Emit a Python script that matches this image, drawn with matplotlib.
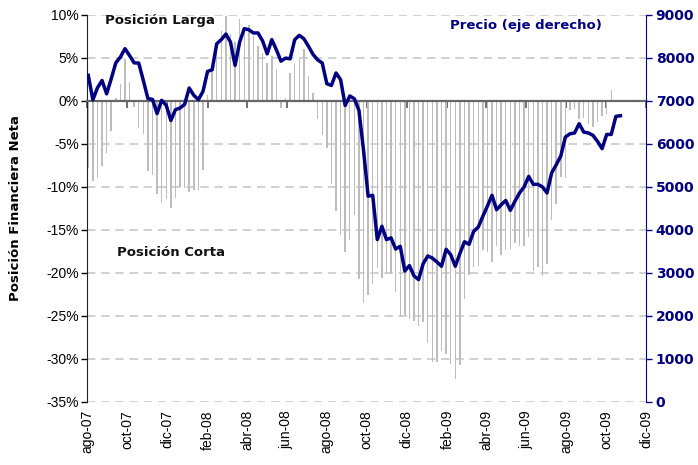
import matplotlib
matplotlib.use('Agg')
import matplotlib.pyplot as plt
import numpy as np
import pandas as pd

# semanas (viernes) desde ago-07
semanas = pd.date_range('2007-08-03', periods=117, freq='7D')

# posicion financiera neta (% del open interest)
posicion = [
    -7.8, -9.3, -9.0, -7.6, -6.1, -3.5, 0.3, 1.9, 4.8, 2.2,
    -0.7, -3.2, -3.9, -8.2, -8.6, -10.9, -11.9, -11.4, -12.5, -11.3,
    -10.0, -10.2, -10.6, -10.4, -10.4, -8.1, 0.7, 3.7, 5.7, 8.1,
    9.9, 7.8, 6.8, 9.5, 8.4, 8.8, 7.5, 6.4, 5.5, 4.4,
    5.2, 3.7, -0.9, 0.3, 3.2, 4.3, 5.0, 6.0, 2.9, 0.9,
    -2.1, -4.0, -5.5, -9.7, -12.8, -15.6, -17.6, -16.2, -13.3, -20.7,
    -23.5, -22.6, -21.3, -19.5, -20.6, -20.2, -20.1, -22.3, -25.2, -24.9,
    -25.4, -25.6, -26.2, -25.7, -28.2, -30.4, -30.4, -29.1, -29.4, -30.6,
    -32.4, -30.7, -23.0, -20.3, -19.3, -19.2, -17.4, -17.6, -18.7, -16.9,
    -17.9, -17.4, -17.2, -16.6, -16.9, -16.9, -15.9, -19.8, -19.3, -20.4,
    -19.0, -13.9, -12.0, -8.9, -9.0, -1.1, -1.0, -2.1, -2.0, -2.7,
    -3.1, -2.5, -1.8, -1.5, 1.3, np.nan, np.nan,
]

# precio (eje derecho)
precio = [
    7589, 7020, 7300, 7470, 7160, 7510, 7880, 8015, 8210, 8050,
    7880, 7875, 7470, 7050, 7030, 6700, 7010, 6890, 6540, 6790,
    6830, 6915, 7295, 7125, 7025, 7215, 7680, 7720, 8325, 8420,
    8550, 8365, 7820, 8365, 8675, 8650, 8575, 8575, 8390, 8090,
    8420, 8185, 7920, 7990, 7975, 8420, 8520, 8440, 8265, 8075,
    7950, 7875, 7395, 7355, 7645, 7490, 6890, 7110, 7045, 6775,
    5845, 4780, 4800, 3770, 4080, 3770, 3810, 3550, 3615, 3040,
    3165, 2925, 2840, 3210, 3390, 3340, 3250, 3150, 3545, 3420,
    3150, 3445, 3720, 3660, 3960, 4060, 4310, 4550, 4800, 4465,
    4580, 4680, 4450, 4660, 4855, 4995, 5240, 5055, 5055, 4995,
    4855, 5320, 5510, 5715, 6155, 6230, 6250, 6465, 6270, 6250,
    6195, 6055, 5885, 6215, 6215, 6635, 6650,
]

meses = pd.date_range('2007-08-01', '2009-12-01', freq='2MS')
etiquetas = ['ago-07', 'oct-07', 'dic-07', 'feb-08', 'abr-08', 'jun-08', 'ago-08',
             'oct-08', 'dic-08', 'feb-09', 'abr-09', 'jun-09', 'ago-09', 'oct-09', 'dic-09']

azul = '#000080'
gris = '#bdbdbd'

fig = plt.figure(figsize=(6.98, 4.65), dpi=100)
ax = fig.add_axes([0.1246, 0.1361, 0.8009, 0.8323])

ax.bar(semanas, posicion, width=2.2, color=gris, zorder=2)

ax.set_ylim(-35, 10)
ax.set_xlim(meses[0], meses[-1])
ax.set_yticks(np.arange(-35, 11, 5))
ax.set_yticklabels([f'{v}%' for v in range(-35, 11, 5)],
                   fontfamily='Liberation Sans', fontsize=10)
ax.yaxis.grid(True, linestyle=(0, (5, 3.5)), color='#c8c8c8', linewidth=1.2, zorder=0)
ax.set_axisbelow(True)
ax.tick_params(axis='y', direction='out', length=4, width=1, pad=2)

# eje de categorias cruzando en 0%, etiquetas abajo
ax.spines['bottom'].set_position(('data', 0))
ax.spines['bottom'].set_color('#666666')
ax.spines['bottom'].set_linewidth(1.6)
ax.spines['bottom'].set_zorder(3)
ax.set_xticks(meses)
ax.tick_params(axis='x', direction='out', length=5, width=1.2, color='#555555',
               labelbottom=False)

abajo = ax.secondary_xaxis('bottom')
abajo.set_xticks(meses)
abajo.set_xticklabels(etiquetas, rotation=90, fontfamily='Liberation Sans', fontsize=10)
abajo.tick_params(length=0, pad=6)
for s in abajo.spines.values():
    s.set_visible(False)

for s in ['top', 'right']:
    ax.spines[s].set_visible(False)
ax.spines['left'].set_color('#222222')

ax.set_ylabel('Posición Financiera Neta', fontfamily='DejaVu Sans', fontweight='bold',
              fontsize=9.5)
ax.yaxis.set_label_coords(-0.117, 0.5)

ax.text(0.032, 0.984, 'Posición Larga', transform=ax.transAxes, va='center', ha='left',
        fontfamily='DejaVu Sans', fontweight='bold', fontsize=9.5, color='#111111')
ax.text(0.054, 0.386, 'Posición Corta', transform=ax.transAxes, va='center', ha='left',
        fontfamily='DejaVu Sans', fontweight='bold', fontsize=9.5, color='#111111')
ax.text(0.649, 0.972, 'Precio (eje derecho)', transform=ax.transAxes, va='center', ha='left',
        fontfamily='DejaVu Sans', fontweight='bold', fontsize=9.5, color=azul)

ax2 = ax.twinx()
ax2.plot(semanas, precio, color=azul, linewidth=2.5, solid_joinstyle='round', zorder=5)
ax2.set_ylim(0, 9000)
ax2.set_yticks(np.arange(0, 9001, 1000))
ax2.set_yticklabels([str(v) for v in range(0, 9001, 1000)],
                    fontfamily='DejaVu Sans', fontweight='bold', fontsize=10, color=azul)
ax2.tick_params(axis='y', direction='out', length=4, width=1, color=azul, pad=3)
for s in ['top', 'left', 'bottom']:
    ax2.spines[s].set_visible(False)
ax2.spines['right'].set_color(azul)
ax2.set_xlim(meses[0], meses[-1])

fig.savefig('out.png', dpi=100)
